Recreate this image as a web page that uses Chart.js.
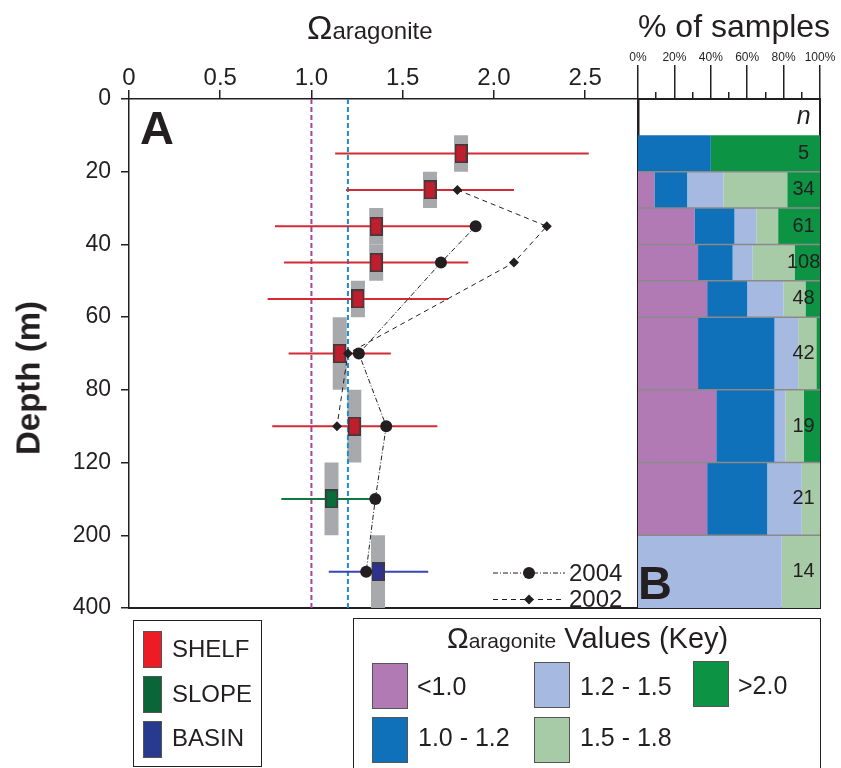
<!DOCTYPE html>
<html>
<head>
<meta charset="utf-8">
<script src="https://cdn.jsdelivr.net/npm/chart.js@4.4.1/dist/chart.umd.min.js"></script>
<style>
  html, body { margin: 0; padding: 0; background: #fff; }
  #wrap { position: relative; width: 841px; height: 768px; overflow: hidden;
          font-family: "Liberation Sans", Arial, Helvetica, sans-serif; color: #231f20; }
  #wrap canvas { position: absolute; left: 0; top: 0; }
  .txt { position: absolute; white-space: nowrap; line-height: 1; }
  .box { position: absolute; box-sizing: border-box; border: 1.5px solid #231f20; }
  .sw { position: absolute; box-sizing: border-box; border: 1px solid #555; }
</style>
</head>
<body>
<div id="wrap">
  <canvas id="chartA" width="841" height="768" style="width:841px;height:768px"></canvas>
  <canvas id="chartB" width="841" height="768" style="width:841px;height:768px"></canvas>

  <div class="txt" style="left:307px;top:10px;font-size:34px;">Ω<span style="font-size:24px;">aragonite</span></div>
  <div class="txt" style="left:638px;top:10px;font-size:32px;">% of samples</div>
  <div class="txt" style="left:28px;top:378px;font-size:33px;font-weight:bold;transform:translate(-50%,-50%) rotate(-90deg);">Depth (m)</div>
  <div class="txt" style="left:140px;top:104px;font-size:47px;font-weight:bold;">A</div>
  <div class="txt" style="left:638px;top:559px;font-size:47px;font-weight:bold;">B</div>

  <div class="box" id="regionKey" style="left:133px;top:620px;width:129px;height:147px;"></div>
  <div class="box" id="classKey" style="left:353px;top:618px;width:468px;height:170px;"></div>
  <div class="txt" style="left:447px;top:624px;font-size:29px;">Ω<span style="font-size:21px;">aragonite</span> Values (Key)</div>
</div>

<script>
// ---------- axes ----------
const DEPTH_TICKS = [0, 20, 40, 60, 80, 120, 200, 400];
const OMEGA_TICKS = [0, 0.5, 1.0, 1.5, 2.0, 2.5];
const OMEGA_TICK_LABELS = ['0', '0.5', '1.0', '1.5', '2.0', '2.5'];
const OMEGA_AXIS_MAX = 2.79;
const PCT_TICKS = [0, 20, 40, 60, 80, 100];
const PCT_TICK_LABELS = ['0%', '20%', '40%', '60%', '80%', '100%'];
const PCT_MINOR_TICKS = [10, 30, 50, 70, 90];

// ---------- depth bins ----------
const BIN_TOP    = [10, 20, 30, 40, 50, 60, 80, 120, 200];
const BIN_BOTTOM = [20, 30, 40, 50, 60, 80, 120, 200, 400];
const BIN_MID    = [15, 25, 35, 45, 55, 70, 100, 160, 300];
const BIN_REGION = ['SHELF', 'SHELF', 'SHELF', 'SHELF', 'SHELF', 'SHELF', 'SHELF', 'SLOPE', 'BASIN'];

// Ω aragonite per bin: mean, minimum, maximum
const OMEGA_MEAN = [1.82, 1.65, 1.355, 1.355, 1.255, 1.155, 1.235, 1.11, 1.365];
const OMEGA_MIN  = [1.13, 1.19, 0.80, 0.85, 0.76, 0.875, 0.785, 0.835, 1.095];
const OMEGA_MAX  = [2.52, 2.11, 1.90, 1.86, 1.75, 1.435, 1.69, 1.35, 1.64];

// survey profiles
const YEAR_LABELS = ['2004', '2002'];
const DEPTH_2004 = [35, 45, 70, 100, 160, 300];
const OMEGA_2004 = [1.90, 1.71, 1.26, 1.41, 1.35, 1.30];
const DEPTH_2002 = [25, 35, 45, 70, 100];
const OMEGA_2002 = [1.80, 2.29, 2.11, 1.20, 1.14];

// saturation reference levels
const THRESHOLDS = [1.0, 1.2];

// ---------- % of samples per Ω class ----------
const CLASS_LABELS = ['<1.0', '1.0 - 1.2', '1.2 - 1.5', '1.5 - 1.8', '>2.0'];
const PCT_LT_1_0   = [0, 9, 31, 33, 38, 33, 43, 38, 0];
const PCT_1_0_1_2  = [40, 18, 22, 19, 22, 42, 32, 33, 0];
const PCT_1_2_1_5  = [0, 20, 12, 11, 20, 13, 6, 19, 79];
const PCT_1_5_1_8  = [0, 35, 12, 23, 12, 10, 10, 10, 21];
const PCT_GT_2_0   = [60, 18, 23, 14, 8, 2, 9, 0, 0];
const N_SAMPLES    = [5, 34, 61, 108, 48, 42, 19, 21, 14];
const REGIONS      = ['SHELF', 'SLOPE', 'BASIN'];

// ---------- styles ----------
const INK = '#231f20';
const FONT = '"Liberation Sans", Arial, Helvetica, sans-serif';
const REGION_STYLE = {
  SHELF: { box: '#be1e2d', line: '#d22b36', key: '#ed1c24' },
  SLOPE: { box: '#0b6b3a', line: '#12783f', key: '#0a6637' },
  BASIN: { box: '#2e3192', line: '#3a44b3', key: '#283a90' }
};
const CLASS_COLORS = ['#b27ab4', '#0f71b9', '#a6b9e0', '#a7cba7', '#0d9344'];
const BAND_GRAY = '#a7a9ac';
const THRESHOLD_COLORS = ['#a3459f', '#1e8bcd'];

// Piecewise depth axis: every labelled depth is spaced evenly.
class DepthScale extends Chart.LinearScale {
  static id = 'depth';
  static defaults = {};
  determineDataLimits() {
    this.min = DEPTH_TICKS[0];
    this.max = DEPTH_TICKS[DEPTH_TICKS.length - 1];
  }
  buildTicks() {
    this.start = this.options.reverse ? this.max : this.min;
    this.end = this.options.reverse ? this.min : this.max;
    return DEPTH_TICKS.map(v => ({ value: v }));
  }
  depthFraction(v) {
    const t = DEPTH_TICKS, n = t.length - 1;
    if (v <= t[0]) return 0;
    for (let i = 1; i <= n; i++) {
      if (v <= t[i]) return (i - 1 + (v - t[i - 1]) / (t[i] - t[i - 1])) / n;
    }
    return 1;
  }
  getPixelForValue(v) { return this.getPixelForDecimal(this.depthFraction(v)); }
  getValueForPixel(p) {
    const n = DEPTH_TICKS.length - 1;
    const d = this.getDecimalForPixel(p) * n;
    const i = Math.max(0, Math.min(Math.floor(d), n - 1));
    return DEPTH_TICKS[i] + (d - i) * (DEPTH_TICKS[i + 1] - DEPTH_TICKS[i]);
  }
}
Chart.register(DepthScale);

// rectangular marker for bin means
function boxGlyph(fill) {
  const c = document.createElement('canvas');
  c.width = 13; c.height = 19;
  const g = c.getContext('2d');
  g.fillStyle = fill; g.fillRect(0, 0, 13, 19);
  g.strokeStyle = '#3b3b3b'; g.lineWidth = 1.5; g.strokeRect(0.75, 0.75, 11.5, 17.5);
  return c;
}

// ---------- panel A datasets ----------
const dsA = [];
THRESHOLDS.forEach((t, i) => dsA.push({
  data: [{ x: t, y: DEPTH_TICKS[0] }, { x: t, y: DEPTH_TICKS[DEPTH_TICKS.length - 1] }],
  showLine: true, borderColor: THRESHOLD_COLORS[i], borderWidth: 2, borderDash: [5, 3],
  pointRadius: 0, order: 35
}));
BIN_MID.forEach((d, i) => {
  const st = REGION_STYLE[BIN_REGION[i]];
  dsA.push({
    data: [{ x: OMEGA_MEAN[i], y: BIN_TOP[i] }, { x: OMEGA_MEAN[i], y: BIN_BOTTOM[i] }],
    showLine: true, borderColor: BAND_GRAY, borderWidth: 14, pointRadius: 0, order: 40
  });
  dsA.push({
    data: [{ x: OMEGA_MIN[i], y: d }, { x: OMEGA_MAX[i], y: d }],
    showLine: true, borderColor: st.line, borderWidth: 2, pointRadius: 0, order: 30
  });
  dsA.push({
    data: [{ x: OMEGA_MEAN[i], y: d }],
    pointStyle: boxGlyph(st.box), pointRadius: 6, order: 20
  });
});
const YEAR_STYLE = [
  { dash: [5, 2, 1, 2], point: 'circle', radius: 6 },
  { dash: [5, 4], point: 'rectRot', radius: 5 }
];
[[DEPTH_2004, OMEGA_2004], [DEPTH_2002, OMEGA_2002]].forEach(([dep, om], k) => dsA.push({
  label: YEAR_LABELS[k],
  data: dep.map((d, i) => ({ x: om[i], y: d })),
  showLine: true, borderColor: INK, borderWidth: 1, borderDash: YEAR_STYLE[k].dash,
  pointStyle: YEAR_STYLE[k].point, pointRadius: YEAR_STYLE[k].radius,
  pointBackgroundColor: INK, pointBorderWidth: 0, order: 10
}));

// in-panel legend for the survey years
const yearLegend = {
  id: 'yearLegend',
  afterDatasetsDraw(chart) {
    const { ctx, chartArea: a } = chart;
    ctx.save();
    YEAR_LABELS.forEach((lab, k) => {
      const y = a.bottom - 35 + k * 26.5;
      const st = YEAR_STYLE[k];
      ctx.strokeStyle = INK; ctx.lineWidth = 1; ctx.setLineDash(st.dash);
      ctx.beginPath(); ctx.moveTo(a.right - 145, y); ctx.lineTo(a.right - 73, y); ctx.stroke();
      ctx.setLineDash([]);
      ctx.fillStyle = INK;
      Chart.helpers.drawPoint(ctx, { pointStyle: st.point, radius: st.radius, borderWidth: 0 }, a.right - 109, y);
      ctx.font = '24px ' + FONT; ctx.textBaseline = 'middle'; ctx.textAlign = 'left';
      ctx.fillText(lab, a.right - 69, y + 1);
    });
    ctx.restore();
  }
};

const axisInk = { color: INK, width: 1.5 };
new Chart(document.getElementById('chartA'), {
  type: 'scatter',
  data: { datasets: dsA },
  options: {
    responsive: false, animation: false, events: [],
    layout: { padding: { left: 0, top: 0, right: 841 - 638, bottom: 768 - 608 } },
    plugins: { legend: { display: false }, tooltip: { enabled: false } },
    scales: {
      x: {
        type: 'linear', position: 'top', min: 0, max: OMEGA_AXIS_MAX,
        afterFit: s => { s.height = 99; },
        afterBuildTicks: s => { s.ticks = OMEGA_TICKS.map(v => ({ value: v })); },
        ticks: { callback: (v, i) => OMEGA_TICK_LABELS[i], font: { size: 24, family: FONT },
                 color: INK, padding: -3, maxRotation: 0, autoSkip: false },
        grid: { drawOnChartArea: false, tickLength: 9, color: INK, lineWidth: 1.5 },
        border: axisInk
      },
      xb: {
        type: 'linear', position: 'bottom', min: 0, max: OMEGA_AXIS_MAX,
        afterFit: s => { s.height = 0; },
        ticks: { display: false }, grid: { drawOnChartArea: false, drawTicks: false },
        border: { color: INK, width: 2 }
      },
      y: {
        type: 'depth', position: 'left', reverse: true,
        afterFit: s => { s.width = 129; },
        ticks: { callback: v => String(v), font: { size: 23, family: FONT }, color: INK,
                 padding: 10, autoSkip: false },
        grid: { drawOnChartArea: false, tickLength: 8, color: INK, lineWidth: 1.5 },
        border: axisInk
      }
    }
  },
  plugins: [yearLegend]
});

// ---------- panel B datasets ----------
const CLASS_PCTS = [PCT_LT_1_0, PCT_1_0_1_2, PCT_1_2_1_5, PCT_1_5_1_8, PCT_GT_2_0];
const dsB = [];
BIN_MID.forEach((d, r) => {
  let acc = 0;
  CLASS_PCTS.forEach((arr, c) => {
    const v = arr[r];
    if (v > 0) {
      const x0 = acc, x1 = acc + v, t = BIN_TOP[r], b = BIN_BOTTOM[r];
      dsB.push({
        data: [{ x: x0, y: t }, { x: x1, y: t }, { x: x1, y: b }, { x: x0, y: b }, { x: x0, y: t }],
        showLine: true, fill: 'shape', backgroundColor: CLASS_COLORS[c],
        borderWidth: 0, borderColor: 'rgba(0,0,0,0)', pointRadius: 0, order: 20
      });
    }
    acc += v;
  });
});
BIN_BOTTOM.slice(0, -1).forEach(d => dsB.push({
  data: [{ x: 0, y: d }, { x: 100, y: d }],
  showLine: true, borderColor: '#8a8a8a', borderWidth: 1.5, pointRadius: 0, order: 10
}));

const N_LABEL_PCT = 91;
const sampleCounts = {
  id: 'sampleCounts',
  afterDatasetsDraw(chart) {
    const { ctx, scales: { x, y } } = chart;
    ctx.save();
    ctx.fillStyle = INK; ctx.textAlign = 'center'; ctx.textBaseline = 'middle';
    ctx.font = 'italic 25px ' + FONT;
    ctx.fillText('n', x.getPixelForValue(N_LABEL_PCT), y.getPixelForValue(5));
    ctx.font = '20px ' + FONT;
    N_SAMPLES.forEach((n, i) => ctx.fillText(String(n), x.getPixelForValue(N_LABEL_PCT), y.getPixelForValue(BIN_MID[i])));
    ctx.restore();
  }
};

new Chart(document.getElementById('chartB'), {
  type: 'scatter',
  data: { datasets: dsB },
  options: {
    responsive: false, animation: false, events: [],
    layout: { padding: { left: 638, top: 0, right: 841 - 820, bottom: 768 - 608 } },
    plugins: { legend: { display: false }, tooltip: { enabled: false } },
    scales: {
      x: {
        type: 'linear', position: 'top', min: 0, max: 100, weight: 1,
        afterFit: s => { s.height = 99; },
        afterBuildTicks: s => { s.ticks = PCT_TICKS.map(v => ({ value: v })); },
        ticks: { callback: (v, i) => PCT_TICK_LABELS[i], font: { size: 12, family: FONT }, color: INK,
                 padding: 0, maxRotation: 0, autoSkip: false },
        grid: { drawOnChartArea: false, tickLength: 34, color: INK, lineWidth: 1.5 },
        border: { color: INK, width: 2 }
      },
      xm: {
        type: 'linear', position: 'top', min: 0, max: 100, weight: 0,
        afterFit: s => { s.height = 0; },
        afterBuildTicks: s => { s.ticks = PCT_MINOR_TICKS.map(v => ({ value: v })); },
        ticks: { display: false },
        grid: { drawOnChartArea: false, tickLength: 7, color: INK, lineWidth: 1.5 },
        border: { display: false }
      },
      xb: {
        type: 'linear', position: 'bottom', min: 0, max: 100,
        afterFit: s => { s.height = 0; },
        ticks: { display: false }, grid: { drawOnChartArea: false, drawTicks: false },
        border: { color: INK, width: 2 }
      },
      y: {
        type: 'depth', position: 'left', reverse: true,
        afterFit: s => { s.width = 0; },
        ticks: { display: false }, grid: { drawOnChartArea: false, drawTicks: false },
        border: { color: INK, width: 2.5 }
      },
      y2: {
        type: 'depth', position: 'right', reverse: true,
        afterFit: s => { s.width = 0; },
        ticks: { display: false }, grid: { drawOnChartArea: false, drawTicks: false },
        border: { color: INK, width: 2 }
      }
    }
  },
  plugins: [sampleCounts]
});

// ---------- keys below the panels ----------
const wrap = document.getElementById('wrap');
function addSwatch(left, top, w, h, color) {
  const d = document.createElement('div');
  d.className = 'sw';
  Object.assign(d.style, { left: left + 'px', top: top + 'px', width: w + 'px', height: h + 'px', background: color });
  wrap.appendChild(d);
}
function addLabel(left, cy, size, text) {
  const d = document.createElement('div');
  d.className = 'txt';
  d.textContent = text;
  Object.assign(d.style, { left: left + 'px', top: (cy - size / 2) + 'px', fontSize: size + 'px' });
  wrap.appendChild(d);
}
const REGION_KEY_POS = [[143, 631, 649], [143, 676, 694], [143, 721, 738]];
REGIONS.forEach((r, i) => {
  const [sx, sy, cy] = REGION_KEY_POS[i];
  addSwatch(sx, sy, 19, 37, REGION_STYLE[r].key);
  addLabel(172, cy, 24, r);
});
const CLASS_KEY_POS = [[372, 663, 417, 686], [372, 717, 418, 737], [534, 662, 580, 686],
                       [534, 717, 580, 737], [693, 661, 738, 685]];
CLASS_LABELS.forEach((lab, i) => {
  const [sx, sy, lx, cy] = CLASS_KEY_POS[i];
  addSwatch(sx, sy, 36, 46, CLASS_COLORS[i]);
  addLabel(lx, cy, 25, lab);
});
</script>
</body>
</html>
